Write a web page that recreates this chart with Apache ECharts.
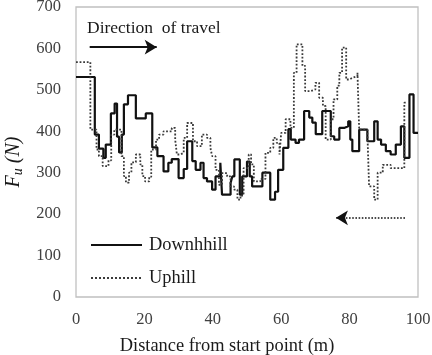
<!DOCTYPE html>
<html><head><meta charset="utf-8">
<script src="https://cdn.jsdelivr.net/npm/echarts@6/dist/echarts.min.js"></script>
<style>html,body{margin:0;padding:0;background:#fff}#c{width:432px;height:355px}</style>
</head><body><div id="c"></div>
<script>
// Downhill: [distance (m), Fu (N)] breakpoints, step held until next point
const downhill = [
[0,531],[5.5,392],[6.7,358],[8.0,336],[8.7,368],[10.2,443],[11.3,467],[12.0,387],[12.6,349],[13.4,392],[14.0,465],[15.2,487],[17.5,431],[20.4,443],[22.3,361],[23.8,340],[25.6,303],[27.0,324],[28.0,333],[30.0,287],[31.5,309],[32.5,376],[34.0,328],[35.0,307],[36.4,324],[37.3,287],[38.3,279],[39.8,259],[40.8,291],[42.2,324],[42.7,247],[45.2,275],[45.7,291],[46.3,332],[47.3,332],[47.9,247],[48.6,291],[50.0,327],[50.8,291],[51.5,267],[54.5,300],[56.8,235],[58.2,254],[59.1,307],[60.6,360],[62.1,405],[62.8,380],[64.2,372],[65.2,380],[66.7,449],[68.2,433],[69.1,421],[70.1,393],[72.0,449],[74.5,388],[75.5,380],[77.0,408],[78.4,412],[79.6,424],[80.2,380],[80.8,352],[82.8,404],[85.2,376],[87.2,424],[88.2,380],[89.2,368],[90.6,352],[92.0,344],[93.5,368],[95.0,412],[96.0,336],[97.5,489],[98.7,396],[100,396]
];
// Uphill: [distance (m), Fu (N)] breakpoints
const uphill = [
[0,567],[4.2,404],[6.0,356],[6.7,340],[7.8,316],[9.5,330],[10.3,392],[11.2,404],[13.3,340],[14.0,292],[14.6,276],[15.5,300],[16.2,325],[17.5,344],[18.8,320],[19.4,292],[20.2,279],[21.4,290],[22.0,356],[23.4,380],[24.3,392],[25.6,400],[28.0,408],[29.0,380],[29.5,344],[30.5,348],[31.5,384],[32.5,420],[34.2,376],[35.4,364],[36.8,392],[38.3,384],[39.3,360],[39.8,340],[40.8,307],[41.8,271],[42.7,299],[44.2,291],[45.2,267],[46.2,259],[47.2,235],[48.1,245],[49.0,311],[50.5,344],[51.2,320],[52.0,279],[53.9,285],[55.4,348],[56.8,360],[57.7,384],[58.7,372],[59.5,344],[60.0,396],[61.3,429],[62.7,408],[63.7,541],[64.5,610],[66.2,558],[67.0,497],[68.6,501],[70.0,517],[71.1,481],[72.2,461],[73.0,380],[74.5,429],[75.3,477],[76.4,510],[77.0,541],[77.8,602],[79.0,525],[80.0,529],[80.8,533],[82.3,541],[82.8,404],[85.2,396],[85.7,267],[87.2,235],[88.2,300],[89.7,319],[92.0,311],[96.0,469],[96.7,469]
];
const seriesNames = ['Downhhill','Uphill'];
const xTicks = [0,100,20];
const yTicks = [0,700,100];
const annotationText = 'Direction  of travel';

const serif = 'Liberation Serif';
const ink = '#1a1a1a';
const chart = echarts.init(document.getElementById('c'));
chart.setOption({
  animation:false,
  grid:{left:76,right:14,top:7,bottom:58,show:true,borderColor:'#c0c0c0',borderWidth:1.3,
        containLabel:false,outerBoundsMode:'none'},
  xAxis:{type:'value',min:xTicks[0],max:xTicks[1],interval:xTicks[2],
    axisLine:{show:false},axisTick:{show:false},splitLine:{show:false},
    axisLabel:{color:'#404040',fontFamily:serif,fontSize:16.5,margin:14,alignMinLabel:'center',alignMaxLabel:'center'},
    name:'Distance from start point (m)',nameLocation:'middle',nameGap:40,
    nameTextStyle:{color:ink,fontFamily:serif,fontSize:18.4,padding:[0,40,0,0]}},
  yAxis:{type:'value',min:yTicks[0],max:yTicks[1],interval:yTicks[2],
    axisLine:{show:false},axisTick:{show:false},splitLine:{show:false},
    axisLabel:{color:'#404040',fontFamily:serif,fontSize:16.5,margin:15},
    name:'{f|F}{u|u}{n| (N)}',nameLocation:'middle',nameGap:49,nameRotate:90,
    nameTextStyle:{color:ink,fontFamily:serif,fontSize:20,padding:[0,20,0,0],
      rich:{f:{fontStyle:'italic',fontFamily:serif,fontSize:20,color:ink},
            u:{fontStyle:'italic',fontFamily:serif,fontSize:14,color:ink,verticalAlign:'bottom',padding:[10,0,0,0]},
            n:{fontStyle:'italic',fontFamily:serif,fontSize:20,color:ink}}}},
  legend:{orient:'vertical',left:90,top:236,padding:0,itemWidth:51,itemHeight:14,itemGap:15,
    itemStyle:{opacity:0},
    textStyle:{fontFamily:serif,fontSize:18.4,color:ink,lineHeight:18,padding:[0,0,0,2]},
    data:seriesNames},
  graphic:[{type:'text',left:87,top:19,style:{text:annotationText,font:'17.5px "Liberation Serif"',fill:ink}}],
  series:[
    {name:seriesNames[0],type:'line',step:'end',data:downhill,showSymbol:false,symbol:'none',
     lineStyle:{color:'#111',width:2.2,type:'solid'},itemStyle:{color:'#111'},
     markLine:{silent:true,symbol:['none','arrow'],symbolSize:[11,12],label:{show:false},
       lineStyle:{color:'#111',width:1.8,type:'solid'},
       data:[[{coord:[4.0,603]},{coord:[23.6,603]}]]}},
    {name:seriesNames[1],type:'line',step:'end',data:uphill,showSymbol:false,symbol:'none',
     lineStyle:{color:'#3a3a3a',width:1.8,type:'dotted'},itemStyle:{color:'#3a3a3a'},
     markLine:{silent:true,symbol:['none','arrow'],symbolSize:[11,12],label:{show:false},
       lineStyle:{color:'#111',width:1.6,type:'dotted'},
       data:[[{coord:[96.2,191]},{coord:[76.0,191]}]]}}
  ]
});
</script></body></html>
